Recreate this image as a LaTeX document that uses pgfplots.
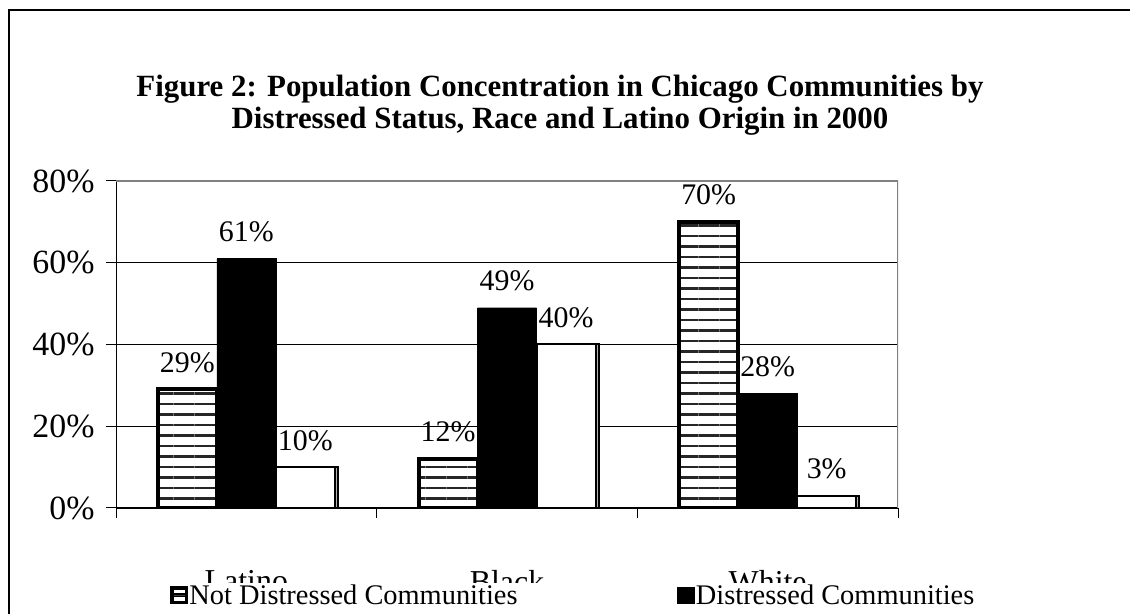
\documentclass[border=0pt]{standalone}
\usepackage{pgfplots}
\pgfplotsset{compat=1.18}
\usepackage{fontspec}
\setmainfont{Liberation Serif}
\usetikzlibrary{patterns.meta}

\pgfplotstableread{
x nd d other
0 29 61 10
1 12 49 40
2 70 28 3
}\datatable

\begin{document}
\begin{tikzpicture}[x=1bp,y=1bp]
\useasboundingbox (0,0) rectangle (1130,614);
\draw[line width=2.5bp] (9,-30) -- (9,604) -- (1160,604);
\node[font=\fontsize{31}{32}\selectfont\bfseries, align=center] at (560,509)
  {Figure 2: Population Concentration in Chicago Communities by\\Distressed Status, Race and Latino Origin in 2000};
\begin{axis}[
  at={(116bp,106bp)}, anchor=south west,
  width=782bp, height=327bp, scale only axis,
  ymin=0, ymax=80, ytick={0,20,40,60,80},
  xmin=-0.5, xmax=2.5,
  xtick={-0.5,0.5,1.5,2.5}, xticklabels={},
  extra x ticks={0,1,2}, extra x tick labels={Latino,Black,White},
  extra x tick style={major tick length=0pt},
  axis lines*=left,
  axis line style={black, line width=1bp},
  tick align=outside, major tick length=10bp,
  tick style={black, line width=1bp},
  ymajorgrids, grid style={black, line width=0.8bp},
  /pgf/number format/assume math mode=true,
  yticklabel={\pgfmathprintnumber{\tick}\%},
  yticklabel style={font=\fontsize{34}{36}\selectfont, xshift=-8bp},
  xticklabel style={font=\fontsize{32}{34}\selectfont, yshift=-59bp},
  ybar=0pt, bar width=59bp,
  nodes near coords={\pgfmathprintnumber{\pgfplotspointmeta}\%},
  every node near coord/.append style={font=\fontsize{30}{32}\selectfont, anchor=base, inner sep=0pt, yshift=17bp},
  legend style={at={(axis description cs:0.07,-0.267)}, anchor=west, draw=none, fill=white,
    font=\fontsize{28.5}{29}\selectfont, legend columns=2, inner sep=0pt,
    nodes={inner sep=1.5bp},
    /tikz/every even column/.append style={column sep=158bp}},
]
\addplot[draw=black, line width=4bp,
  pattern={Lines[angle=0,distance=10.5bp,line width=2.4bp]}, pattern color=black!85,
  preaction={fill=white},
  legend image code/.code={\draw[black, line width=3bp, fill=white] (1.5bp,-7bp) rectangle (15.5bp,7bp); \draw[black!75, line width=1.5bp] (3bp,0bp) -- (14bp,0bp);}]
  table[x=x, y=nd] {\datatable};
\addplot[draw=black, fill=black,
  legend image code/.code={\fill[black] (0bp,-8bp) rectangle (17bp,8bp);}]
  table[x=x, y=d] {\datatable};
\addplot[draw=black, fill=white, line width=2bp,
  preaction={fill=black!30, transform canvas={xshift=3bp}}]
  table[x=x, y=other] {\datatable};
\legend{Not Distressed Communities, Distressed Communities}
\draw[black!50, line width=2.5bp] (rel axis cs:0,1) -- (rel axis cs:1,1) -- (rel axis cs:1,0);
\end{axis}
\end{tikzpicture}
\end{document}
